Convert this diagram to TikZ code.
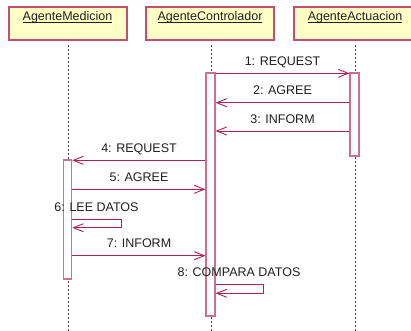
\documentclass[tikz,border=0pt]{standalone}
\usepackage{fontspec}
\setmainfont{Liberation Sans}
\usetikzlibrary{arrows.meta}
\definecolor{boxfill}{HTML}{FFFFC6}
\definecolor{boxline}{HTML}{C0506E}
\definecolor{barline}{HTML}{CC7090}
\definecolor{msgline}{HTML}{B0205A}
\definecolor{txt}{HTML}{202020}
\tikzset{
  objbox/.style={draw=boxline, line width=1.2pt, fill=boxfill, rectangle,
    minimum height=33pt, inner sep=0pt},
  objname/.style={anchor=base, inner sep=0pt, text=txt, font=\fontsize{12.5}{14}\selectfont},
  lifeline/.style={draw=black!75, line width=0.9pt, dash pattern=on 2pt off 2pt},
  actbar/.style={draw=barline, line width=1.1pt, fill=white, rectangle,
    minimum width=9pt, inner sep=0pt},
  msg/.style={draw=msgline, line width=0.9pt,
    -{Straight Barb[length=10pt,width=8pt,line width=0.9pt]}},
  msglabel/.style={anchor=base, inner sep=0pt, text=txt, font=\fontsize{12.5}{14}\selectfont}
}
\begin{document}
\begin{tikzpicture}[x=1pt,y=-1pt]
\clip (0,0) rectangle (411,330);
\fill[white] (0,0) rectangle (411,330);

% object boxes
\node[objbox, minimum width=118pt] (bmed) at (68,23.5) {};
\node[objbox, minimum width=128pt] (bctl) at (210,23.5) {};
\node[objbox, minimum width=136pt] (bact) at (362,23.5) {};
\node[objname] (nmed) at (67.5,20.5) {\underline{\smash{AgenteMedicion}}};
\node[objname] (nctl) at (210,20.5) {\underline{\smash{AgenteControlador}}};
\node[objname] (nact) at (355,20.5) {\underline{\smash{AgenteActuacion}}};

% lifelines
\coordinate (lmedtop) at (68,45);
\coordinate (lmedbot) at (68,331);
\coordinate (lctltop) at (211,45);
\coordinate (lctlbot) at (211,331);
\coordinate (lacttop) at (355,45);
\coordinate (lactbot) at (355,331);
\draw[lifeline] (lmedtop) -- (lmedbot);
\draw[lifeline] (lctltop) -- (lctlbot);
\draw[lifeline] (lacttop) -- (lactbot);

% activation bars
\node[actbar, minimum height=243pt] (actl) at (210.5,194.5) {};
\node[actbar, minimum height=83pt] (aact) at (354.5,114.5) {};
\node[actbar, minimum width=8pt, minimum height=119pt] (amed) at (67.7,219.5) {};

% message rows
\coordinate (y1) at (0,73.3);
\coordinate (y2) at (0,102.7);
\coordinate (y3) at (0,131);
\coordinate (y4) at (0,160.3);
\coordinate (y5) at (0,189.3);
\coordinate (y6a) at (0,219.3);
\coordinate (y6b) at (0,227.7);
\coordinate (y7) at (0,255.7);
\coordinate (y8a) at (0,284.3);
\coordinate (y8b) at (0,293.3);
\coordinate (self6) at (121,227.7);
\coordinate (self8) at (263.3,293.3);

% messages
\draw[msg] (actl.east |- y1) -- (aact.west |- y1);
\draw[msg] (aact.west |- y2) -- (actl.east |- y2);
\draw[msg] (aact.west |- y3) -- (actl.east |- y3);
\draw[msg] (actl.west |- y4) -- (amed.east |- y4);
\draw[msg] (amed.east |- y5) -- (actl.west |- y5);
\draw[msg] (amed.east |- y6a) -| (self6) -- (amed.east |- y6b);
\draw[msg] (amed.east |- y7) -- (actl.west |- y7);
\draw[msg] (actl.east |- y8a) -| (self8) -- (actl.east |- y8b);

% message labels
\node[msglabel] (l1) at (282.5,65.3) {1: REQUEST};
\node[msglabel] (l2) at (282.5,94.7) {2: AGREE};
\node[msglabel] (l3) at (282.5,123) {3: INFORM};
\node[msglabel] (l4) at (139,152.3) {4: REQUEST};
\node[msglabel] (l5) at (139,181.3) {5: AGREE};
\node[msglabel] (l6) at (96.5,211.3) {6: LEE DATOS};
\node[msglabel] (l7) at (139,247.7) {7: INFORM};
\node[msglabel] (l8) at (239,276.3) {8: COMPARA DATOS};
\end{tikzpicture}
\end{document}
